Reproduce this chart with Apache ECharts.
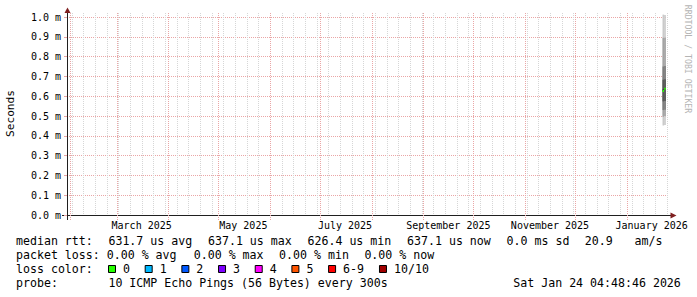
<!DOCTYPE html>
<html><head><meta charset="utf-8">
<script src="https://cdn.jsdelivr.net/npm/echarts@6/dist/echarts.min.js"></script>
<style>html,body{margin:0;padding:0;background:#fff}#c{width:697px;height:297px}</style>
</head><body><div id="c"></div>
<script>
// ---------- data ----------
const rangeStart = '2025-01-30T04:48:46Z';
const rangeDays = 360;
const monthStarts = ['2025-02-01','2025-03-01','2025-04-01','2025-05-01','2025-06-01','2025-07-01',
  '2025-08-01','2025-09-01','2025-10-01','2025-11-01','2025-12-01','2026-01-01'];
const firstWeekLine = '2025-02-02';
const xTickLabels = ['March 2025','May 2025','July 2025','September 2025','November 2025','January 2026'];
const xTickLabelDates = ['2025-03-16','2025-05-16','2025-07-16','2025-09-16','2025-11-16','2026-01-16'];
const yTickUnit = ' m';

// consolidated steps with data (ms)
const stepStarts = ['2026-01-22T12:00:00Z','2026-01-23T12:00:00Z'];
const stepEnds   = ['2026-01-23T12:00:00Z','2026-01-24T12:00:00Z'];
const medianRtt  = [0.6264, 0.6371];
const pingsStep1 = [0.452,0.496,0.530,0.574,0.626,0.634,0.683,0.750,0.895,1.012];
const pingsStep2 = [0.455,0.500,0.532,0.576,0.632,0.640,0.685,0.752,0.895,1.010];

const legendRows = [
  'median rtt:  631.7 us avg  637.1 us max  626.4 us min  637.1 us now  0.0 ms sd  20.9   am/s',
  'packet loss: 0.00 % avg  0.00 % max  0.00 % min  0.00 % now',
  'loss color:',
  'probe:       10 ICMP Echo Pings (56 Bytes) every 300s'
];
const lossLabels = ['0','1','2','3','4','5','6-9','10/10'];
const lossColors = ['#26ff00','#00b8ff','#0059ff','#7e00ff','#ff00ff','#ff5500','#ff0000','#a10000'];
const stampText = 'Sat Jan 24 04:48:46 2026';
const watermark = 'RRDTOOL / TOBI OETIKER';
const yName = 'Seconds';

// ---------- build ----------
const DAY = 86400000;
const xMin = Date.parse(rangeStart);
const xMax = xMin + rangeDays * DAY;
const toT = s => Date.parse(s.length === 10 ? s + 'T00:00:00Z' : s);
const monthTimes = monthStarts.map(toT);
const weekTimes = [];
for (let t = toT(firstWeekLine); t < xMax; t += 7 * DAY) weekTimes.push(t);
const labelTimes = xTickLabelDates.map(toT);
const labelMap = {};
labelTimes.forEach((t, i) => labelMap[t] = xTickLabels[i]);

const gridData = weekTimes.map(t => [t, 0]).concat(monthTimes.map(t => [t, 1]));
const pingSets = [pingsStep1, pingsStep2];
const smokeData = stepStarts.map((s, i) => [toT(s), toT(stepEnds[i])].concat(pingSets[i], [medianRtt[i]]));
const smokeGrays = ['#cacaca','#a4a4a4','#7e7e7e','#585858','#323232'];

const MONO = 'DejaVu Sans Mono';
const PINK = '#eaa6a6';
const GRAYG = '#d6d6d6';

const graphics = [];
const CW = 7.11, LX = 16;
const rowBase = [241.2, 255.2, 269.2, 283.2];
const LFONT = '11.6px "' + MONO + '"';
legendRows.forEach((row, r) => {
  const re = /\S+(?: \S+)*/g; let m;
  while ((m = re.exec(row))) {
    graphics.push({type:'text', x: LX + m.index * CW, y: rowBase[r], silent:true,
      style:{text:m[0], font:LFONT, fill:'#000', align:'left', verticalAlign:'middle'}});
  }
});
let bx = 108;
lossLabels.forEach((lab, i) => {
  graphics.push({type:'rect', silent:true, shape:{x:bx + 0.5, y:265.5, width:7, height:7},
    style:{fill:lossColors[i], stroke:'#000', lineWidth:1}});
  graphics.push({type:'text', x: bx + 15, y: rowBase[2], silent:true,
    style:{text:lab, font:LFONT, fill:'#000', align:'left', verticalAlign:'middle'}});
  bx += 29.57 + lab.length * CW;
});
graphics.push({type:'text', x:513.3, y:rowBase[3], silent:true,
  style:{text:stampText, font:LFONT, fill:'#000', align:'left', verticalAlign:'middle'}});
graphics.push({type:'text', x:687.5, y:59, rotation:-Math.PI/2, silent:true,
  style:{text:watermark, font:'8.2px "' + MONO + '"', fill:'#b4b4b4', align:'center', verticalAlign:'middle'}});
graphics.push({type:'text', x:10.5, y:113.5, rotation:Math.PI/2, silent:true,
  style:{text:yName, font:'11.1px "' + MONO + '"', fill:'#000', align:'center', verticalAlign:'middle'}});
// axis extensions & arrows
const AX = '#1f1f1f', AR = '#7f1f1f';
graphics.push({type:'line', silent:true, shape:{x1:67.5,y1:12,x2:67.5,y2:17}, style:{stroke:AX,lineWidth:1}});
graphics.push({type:'line', silent:true, shape:{x1:67.5,y1:215,x2:67.5,y2:220}, style:{stroke:AX,lineWidth:1}});
graphics.push({type:'line', silent:true, shape:{x1:62,y1:215.5,x2:67,y2:215.5}, style:{stroke:AX,lineWidth:1}});
graphics.push({type:'line', silent:true, shape:{x1:667,y1:215.5,x2:671,y2:215.5}, style:{stroke:AX,lineWidth:1}});
graphics.push({type:'polygon', silent:true, shape:{points:[[67.5,7.5],[64.5,13],[70.5,13]]}, style:{fill:AR}});
graphics.push({type:'polygon', silent:true, shape:{points:[[676.5,215.5],[670.5,212.5],[670.5,218.5]]}, style:{fill:AR}});

const chart = echarts.init(document.getElementById('c'), null, {renderer:'svg', width:697, height:297});
chart.setOption({
  animation:false,
  backgroundColor:'#ffffff',
  grid:{left:67, top:17, width:600, height:198, containLabel:false, outerBoundsMode:'none'},
  xAxis:{
    type:'value', min:xMin, max:xMax,
    axisLine:{show:true, onZero:false, lineStyle:{color:AX, width:1}},
    axisTick:{show:false},
    axisLabel:{show:true, customValues:labelTimes, formatter:v => labelMap[v] || '',
      margin:5, fontFamily:MONO, fontSize:10, color:'#000', hideOverlap:false},
    splitLine:{show:false}
  },
  yAxis:{
    type:'value', min:0, max:1, interval:0.1,
    axisLine:{show:true, lineStyle:{color:AX, width:1}},
    axisTick:{show:true, length:3, lineStyle:{color:PINK}},
    axisLabel:{margin:6, formatter:v => v.toFixed(1) + yTickUnit, fontFamily:MONO, fontSize:10, color:'#000'},
    splitLine:{show:true, lineStyle:{color:PINK, type:[1,1], width:1}}
  },
  graphic:graphics,
  series:[
    {
      type:'custom', name:'grid', z:1, silent:true, clip:false,
      data:gridData,
      encode:{x:0},
      renderItem:(params, api) => {
        const x = Math.round(api.coord([api.value(0), 0])[0]) + 0.5;
        const cs = params.coordSys;
        const month = api.value(1) === 1;
        return {type:'line', shape:{x1:x, y1:cs.y - 4, x2:x, y2:cs.y + cs.height + (month ? 5 : 0)},
          style:{stroke: month ? PINK : GRAYG, lineWidth:1, lineDash:[1,1]}};
      }
    },
    {
      type:'custom', name:'smoke', z:3, clip:false,
      data:smokeData,
      encode:{x:[0,1], y:[2,11]},
      renderItem:(params, api) => {
        const t0 = api.value(0), t1 = api.value(1);
        const children = [];
        for (let i = 0; i < 5; i++) {
          const lo = api.value(2 + i), hi = api.value(11 - i);
          const a = api.coord([t0, hi]), b = api.coord([t1, lo]);
          children.push({type:'rect', shape:{x:a[0], y:a[1], width:b[0]-a[0], height:b[1]-a[1]},
            style:{fill:smokeGrays[i]}});
        }
        const m = api.value(12);
        const p = api.coord([t0, m]), q = api.coord([t1, m]);
        children.push({type:'line', shape:{x1:p[0], y1:p[1], x2:q[0], y2:q[1]},
          style:{stroke:lossColors[0], lineWidth:2}});
        return {type:'group', children};
      }
    }
  ]
});
</script></body></html>
